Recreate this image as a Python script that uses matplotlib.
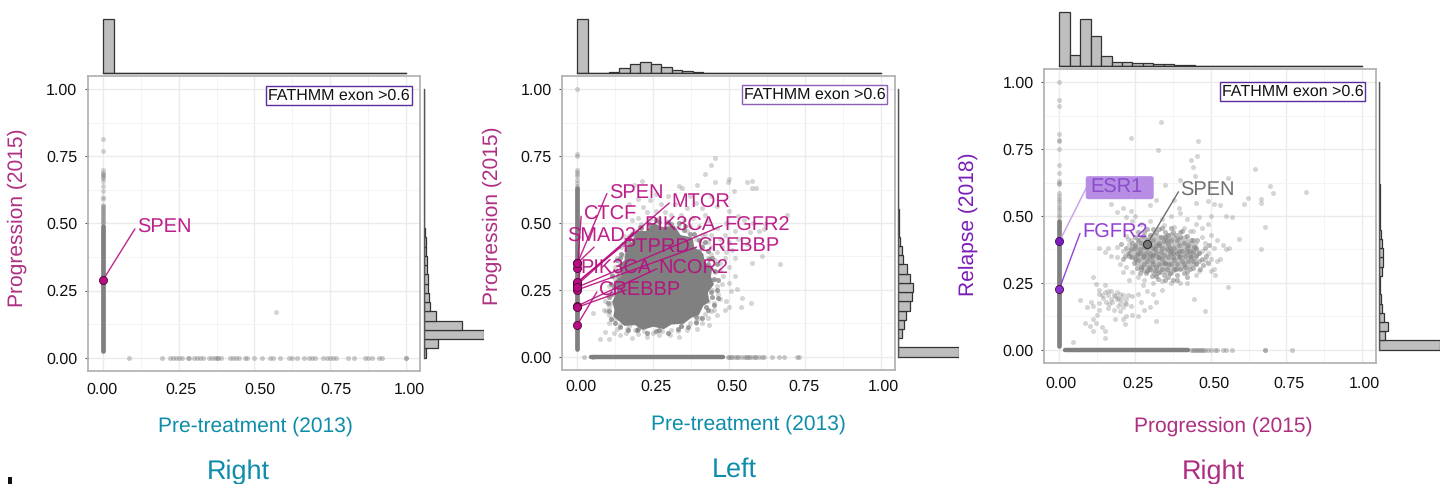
import matplotlib
matplotlib.use("Agg")
import matplotlib.pyplot as plt
from matplotlib.patches import Rectangle, FancyBboxPatch
from matplotlib.transforms import ScaledTranslation

plt.rcParams['font.family'] = ['Liberation Sans', 'DejaVu Sans']
plt.rcParams['text.hinting'] = 'no_hinting'
plt.rcParams['text.hinting_factor'] = 1
W, H = 1440, 484

TICKS = [0.0, 0.25, 0.5, 0.75, 1.0]
TICK_LABELS = ['0.00', '0.25', '0.50', '0.75', '1.00']
MINOR = [0.125, 0.375, 0.625, 0.875]

# ---------- Panel 1 data ----------
p1_top = [1.0, 0, 0, 0, 0, 0, 0, 0, 0, 0, 0, 0, 0, 0, 0, 0, 0, 0, 0, 0, 0, 0, 0, 0, 0, 0, 0, 0, 0]
p1_right = [.04, .24, 1.0, .64, .21, .10, .08, .065, .07, .06, .05, .045, .03, .02, .012, .008, .006, .005, .005,
            .004, .004, .003, .003, .002, .002, .002, .002, .002, .002]
p1_col_dense = [.025, .04, .055, .07, .085, .10, .115, .13, .145, .16, .175, .19, .205, .22, .235, .25, .265, .28,
                .295, .31, .325, .34, .355, .37, .385, .40, .415, .43, .445, .46, .475, .49]
p1_col_sparse = [.50, .505, .51, .515, .52, .525, .53, .535, .54, .545, .55, .555, .56, .565, .57, .59, .60, .62, .64,
                 .66, .67, .675, .68, .685, .69, .70, .77, .815]
p1_row = [.085, .195, .22, .23, .24, .25, .26, .28, .285, .30, .31, .32, .33, .35, .36, .37, .375, .38, .39, .42,
          .43, .44, .45, .47, .475, .50, .525, .55, .56, .585, .615, .625, .64, .665, .68, .69, .70, .725, .74, .75,
          .76, .77, .81, .83, .865, .875, .89, .91, .92, 1.0, 1.0]
p1_loose = [(.57, .17)]

# ---------- Panel 2 data ----------
p2_top = [1.0, 0, 0, .015, .09, .18, .21, .18, .12, .06, .035, .018, .008, .004, .002, .001, .001, 0, 0, 0, 0, 0, 0,
          0, 0, 0, 0, 0, 0]
p2_right = [1.0, 0, .07, .10, .13, .20, .225, .24, .19, .14, .09, .06, .04, .02, .012, .01, .008, .006, .005, .005,
            .004, .004, .003, .003, .002, .002, .002, .002, .002]
p2_col_dense = [.03, .045, .06, .075, .09, .105, .12, .135, .15, .165, .18, .195, .21, .225, .24, .255, .27, .285,
                .30, .315, .33, .345, .36, .375, .39, .405, .42, .435, .45, .465, .48, .495, .51, .525, .54, .555,
                .57, .585, .60, .615, .63]
p2_col_sparse = [.64, .65, .66, .675, .685, .69, .70, .75, .76, 1.0]
p2_row_dense = [.045, .06, .075, .09, .105, .12, .135, .15, .165, .18, .195, .21, .225, .24, .255, .27, .285, .30,
                .315, .33, .345, .36, .375, .39, .405, .42, .435, .45, .465, .48]
p2_row_sparse = [.02, .05, .495, .50, .505, .51, .52, .525, .53, .54, .55, .555, .56, .565, .57, .58, .585, .59, .60,
                 .61, .615, .64, .665, .68, .725, .73]
p2_core = [(.115, .205), (.122, .175), (.118, .15), (.14, .13), (.155, .115), (.19, .118), (.215, .10), (.25, .112),
           (.285, .103), (.31, .12), (.35, .123), (.375, .145), (.40, .155), (.415, .19), (.435, .205), (.43, .24),
           (.45, .27), (.44, .30), (.445, .335), (.42, .35), (.415, .385), (.385, .41), (.38, .445), (.34, .455),
           (.32, .49), (.28, .485), (.25, .50), (.225, .47), (.195, .47), (.18, .43), (.16, .41), (.155, .36),
           (.138, .345), (.145, .30), (.125, .285), (.13, .245)]
p2_edge = [(.10, .20), (.105, .17), (.11, .14), (.125, .125), (.14, .11), (.165, .10), (.195, .10), (.23, .09), (.26, .095),
           (.30, .09), (.33, .105), (.365, .11), (.39, .13), (.41, .145), (.43, .175), (.45, .195), (.445, .225),
           (.46, .25), (.465, .285), (.455, .32), (.46, .345), (.435, .365), (.43, .395), (.41, .41), (.40, .435),
           (.37, .46), (.35, .475), (.335, .50), (.30, .505), (.27, .505), (.235, .495), (.205, .485), (.18, .46),
           (.17, .44), (.15, .42), (.145, .385), (.13, .36), (.13, .32), (.115, .30), (.11, .27), (.115, .235),
           (.125, .205), (.135, .16), (.155, .13), (.20, .105), (.27, .10), (.34, .115), (.39, .15), (.425, .185),
           (.44, .24), (.45, .29), (.43, .345), (.40, .395), (.36, .44), (.31, .495), (.26, .51), (.21, .48), (.165, .43),
           (.14, .37), (.135, .30), (.12, .26), (.105, .225), (.465, .22), (.445, .37), (.42, .43), (.385, .46), (.355, .49)]
p2_loose = [(.453, .743), (.441, .718), (.422, .683), (.50, .665), (.498, .655), (.455, .653), (.56, .652), (.577, .658),
            (.588, .631), (.575, .632), (.516, .621), (.395, .643), (.336, .64), (.345, .632), (.213, .656), (.185, .643),
            (.69, .529), (.615, .476), (.668, .345), (.61, .376), (.577, .352), (.571, .202), (.544, .221), (.527, .252),
            (.538, .184), (.334, .075), (.103, .066), (.075, .066), (.092, .093), (.051, .163), (.086, .175), (.103, .184),
            (.119, .09), (.163, .103), (.44, .60), (.37, .60), (.30, .60), (.26, .61), (.24, .585), (.20, .59), (.17, .57),
            (.32, .57), (.39, .575), (.41, .555), (.46, .565), (.50, .545), (.53, .525), (.55, .51), (.58, .50), (.60, .47),
            (.62, .495), (.57, .465), (.52, .47), (.49, .50), (.46, .48), (.43, .51), (.42, .46), (.47, .44), (.50, .43),
            (.53, .44), (.56, .42), (.49, .39), (.52, .37), (.46, .39), (.44, .41), (.43, .37), (.47, .35), (.50, .335),
            (.455, .315), (.44, .33), (.48, .30), (.445, .285), (.46, .265), (.50, .275), (.52, .30), (.445, .25),
            (.465, .235), (.49, .21), (.50, .185), (.43, .21), (.45, .20), (.44, .17), (.42, .16), (.46, .155), (.40, .145),
            (.41, .125), (.37, .125), (.34, .115), (.31, .10), (.28, .095), (.25, .09), (.22, .095), (.19, .10), (.17, .115),
            (.14, .12), (.125, .14), (.105, .155), (.11, .20), (.10, .23), (.12, .25), (.125, .29), (.14, .31), (.14, .345),
            (.15, .38), (.165, .41), (.17, .45), (.19, .47), (.21, .495), (.18, .51), (.24, .515), (.27, .52), (.30, .50),
            (.33, .485), (.36, .47), (.39, .44), (.41, .42), (.29, .54), (.23, .54), (.34, .53), (.38, .52), (.40, .49),
            (.43, .43), (.41, .455), (.44, .385), (.455, .36), (.47, .325), (.475, .27), (.47, .215), (.45, .175),
            (.43, .145), (.39, .125), (.36, .10), (.33, .095), (.27, .08), (.23, .075), (.20, .085), (.16, .09), (.13, .105),
            (.105, .125), (.095, .17), (.09, .21), (.105, .265), (.115, .31), (.125, .335), (.13, .37), (.145, .41),
            (.155, .45), (.20, .52), (.26, .545), (.31, .53), (.35, .51), (.37, .49), (.275, .57), (.215, .56), (.36, .555),
            (.42, .53), (.44, .455), (.485, .455), (.51, .40), (.475, .41), (.485, .37), (.505, .245), (.485, .175),
            (.435, .12), (.395, .105), (.305, .08), (.18, .07), (.14, .08)]

# ---------- Panel 3 data ----------
p3_top = [1.0, .20, .87, .55, .19, .08, .07, .055, .05, .045, .03, .025, .012, .008, .005, .003, .002, .002, .001,
          .001, .001, 0, 0, 0, 0, 0, 0, 0, 0]
p3_right = [1.0, .09, .14, .07, .045, .03, .01, .01, .04, .06, .06, .04, .025, .01, .006, .005, .004, .004, .003,
            .003, .002, .002, .002, .002, .002, .002, .002, .002, .002]
p3_col_dense = [.015, .03, .045, .06, .075, .09, .105, .12, .135, .15, .165, .18, .195, .21, .225, .24, .255, .27,
                .285, .30, .315, .33, .345, .36, .375, .39, .405, .42, .435, .45, .465, .48]
p3_col_sparse = [.495, .505, .515, .525, .535, .545, .555, .565, .575, .585, .62, .625, .63, .66, .69, .75, .78, .785,
                 .805, .91, .935, 1.0]
p3_row_dense = [.02, .035, .05, .065, .08, .095, .11, .125, .14, .155, .17, .185, .20, .215, .23, .245, .26, .275,
                .29, .305, .32, .335, .35, .365, .38, .395, .41, .425]
p3_row_sparse = [.435, .44, .445, .45, .455, .46, .465, .47, .475, .48, .49, .50, .515, .52, .54, .55, .57, .68, .68, .77]
p3_core = [(.225, .36), (.235, .335), (.245, .345), (.25, .315), (.27, .31), (.275, .285), (.30, .29), (.315, .27),
           (.345, .285), (.37, .275), (.39, .295), (.42, .295), (.44, .31), (.46, .315), (.455, .34), (.47, .36),
           (.455, .385), (.46, .40), (.43, .405), (.42, .43), (.39, .42), (.37, .44), (.34, .425), (.31, .44), (.29, .42),
           (.265, .425), (.25, .395), (.235, .39)]
p3_loose = [(.335, .85), (.236, .79), (.458, .78), (.327, .747), (.456, .725), (.434, .709), (.44, .684), (.645, .677),
            (.447, .65), (.558, .643), (.40, .634), (.696, .612), (.707, .587), (.814, .588), (.667, .563), (.667, .547),
            (.623, .566), (.61, .545), (.571, .498), (.68, .458), (.592, .413), (.667, .377), (.558, .234), (.48, .143),
            (.445, .189), (.046, .029), (.068, .184), (.084, .10), (.318, .106), (.151, .044),
            (.35, .615), (.32, .56), (.30, .54), (.29, .60), (.17, .545), (.21, .53), (.19, .515), (.235, .52), (.25, .50),
            (.38, .56), (.395, .53), (.40, .51), (.45, .55), (.49, .555), (.51, .545), (.53, .54), (.55, .50), (.50, .50),
            (.46, .495), (.45, .47), (.42, .49), (.37, .50), (.34, .49), (.30, .48), (.27, .47), (.24, .48), (.22, .495),
            (.345, .465), (.38, .46), (.41, .455), (.44, .445), (.47, .455), (.49, .47), (.50, .43), (.52, .41), (.55, .375),
            (.56, .38), (.54, .39), (.51, .38), (.49, .36), (.50, .34), (.53, .34), (.52, .33), (.51, .30), (.515, .28),
            (.50, .295), (.48, .335), (.47, .37), (.48, .40), (.47, .42), (.43, .445), (.40, .25), (.37, .25), (.34, .255),
            (.31, .25), (.34, .225), (.42, .25), (.45, .28), (.46, .295), (.28, .26), (.26, .27), (.24, .29), (.22, .31),
            (.23, .26), (.21, .29), (.20, .32), (.19, .345), (.17, .35), (.15, .365), (.16, .38), (.13, .38), (.21, .37),
            (.19, .385), (.23, .395), (.22, .425), (.225, .415), (.235, .41), (.11, .27), (.12, .245), (.13, .225), (.15, .24),
            (.16, .22), (.13, .21), (.14, .205), (.17, .22), (.18, .205), (.19, .215), (.20, .21), (.21, .205), (.22, .19),
            (.24, .20), (.235, .165), (.22, .17), (.20, .175), (.19, .19), (.17, .19), (.155, .18), (.13, .175), (.11, .165),
            (.105, .18), (.13, .15), (.16, .155), (.18, .15), (.20, .145), (.22, .125), (.24, .13), (.26, .125), (.28, .15),
            (.30, .16), (.32, .18), (.27, .18), (.26, .21), (.29, .22), (.31, .21), (.275, .24), (.11, .115), (.12, .10),
            (.10, .09), (.11, .07), (.14, .085), (.15, .07), (.215, .095), (.21, .115), (.125, .13), (.09, .16), (.185, .115),
            (.145, .195), (.16, .205), (.175, .18), (.185, .20), (.195, .195), (.205, .19), (.215, .175), (.225, .205),
            (.165, .17), (.15, .215), (.195, .165), (.21, .16)]
p3_cloud = [(.27, .31), (.30, .30), (.33, .29), (.36, .27), (.39, .28), (.42, .29), (.44, .33), (.46, .33), (.45, .38),
            (.44, .41), (.40, .44), (.37, .455), (.33, .45), (.29, .45), (.26, .44), (.25, .38), (.23, .35), (.28, .35),
            (.31, .38), (.34, .34), (.37, .37), (.40, .35), (.42, .38), (.29, .33), (.33, .40), (.36, .32), (.39, .41),
            (.27, .40), (.31, .32), (.43, .35), (.25, .34), (.35, .42), (.41, .32), (.30, .36), (.38, .30), (.32, .36),
            (.225, .36), (.235, .375), (.24, .345), (.245, .325), (.25, .39), (.255, .355), (.26, .41), (.26, .335),
            (.265, .375), (.27, .30), (.275, .345), (.275, .425), (.28, .385), (.28, .32), (.285, .36), (.285, .285),
            (.29, .41), (.295, .345), (.295, .31), (.30, .39), (.30, .43), (.305, .275), (.305, .33), (.31, .355),
            (.31, .41), (.315, .295), (.315, .375), (.32, .44), (.32, .31), (.325, .345), (.325, .265), (.33, .39),
            (.33, .32), (.335, .365), (.335, .42), (.34, .30), (.34, .38), (.345, .28), (.345, .355), (.345, .405),
            (.35, .325), (.35, .44), (.355, .375), (.355, .30), (.36, .345), (.36, .395), (.36, .43), (.365, .285),
            (.365, .36), (.37, .32), (.37, .41), (.375, .345), (.375, .26), (.38, .38), (.38, .335), (.385, .43),
            (.385, .30), (.39, .36), (.39, .32), (.395, .39), (.395, .345), (.40, .30), (.40, .42), (.405, .37),
            (.405, .33), (.41, .285), (.41, .40), (.415, .35), (.415, .31), (.42, .365), (.42, .425), (.425, .33),
            (.425, .39), (.43, .30), (.43, .37), (.435, .345), (.435, .41), (.44, .305), (.44, .365), (.445, .385),
            (.45, .32), (.45, .35), (.455, .41), (.46, .36), (.465, .30), (.47, .34), (.475, .315), (.48, .38),
            (.485, .35), (.49, .325), (.495, .39), (.215, .35), (.22, .38), (.205, .395), (.21, .34), (.24, .40),
            (.25, .42), (.255, .305), (.265, .285), (.29, .295), (.32, .275), (.35, .26), (.39, .26), (.42, .27),
            (.28, .44), (.31, .45), (.34, .455), (.375, .44), (.405, .445), (.33, .345), (.29, .38), (.355, .41),
            (.365, .38), (.305, .35), (.32, .39), (.345, .325), (.375, .36), (.395, .37), (.27, .36), (.26, .36)]

# ---------- Annotations ----------
p1_genes = [('SPEN', .29, .113, .485, .105, .48)]
p2_genes = [('SPEN', .35, .104, .61, .097, .61), ('CTCF', .333, .02, .53, .012, .525),
            ('SMAD2', .35, -.033, .448, .055, .41), ('MTOR', .277, .309, .575, .303, .575),
            ('PIK3CA', .27, .22, .49, .216, .488), ('FGFR2', .26, .483, .49, .477, .49),
            ('PTPRD', .28, .147, .411, .143, .41), ('CREBBP', .25, .397, .411, .393, .41),
            ('PIK3CA', .26, .009, .329, .008, .32), ('NCOR2', .19, .268, .329, .262, .329),
            ('CREBBP', .12, .072, .248, .064, .242), ('', .185, .0, .0, .16, .25)]
p3_genes = [('FGFR2', .228, .075, .439, .068, .435)]

TEAL = '#0E8DAB'
MAG = '#AE2F82'
PURP = '#7A1CB8'
GENE = '#B80D80'
GREY = '#808080'
GENE_FS = 14.3

fig = plt.figure(figsize=(W / 100, H / 100), dpi=100)


def px_axes(x0, y0, x1, y1, **kw):
    return fig.add_axes([x0 / W, 1 - y1 / H, (x1 - x0) / W, (y1 - y0) / H], **kw)


def ftext(x, y, s, **kw):
    fig.text(x / W, 1 - y / H, s, ha=kw.pop('ha', 'center'), va=kw.pop('va', 'center'), **kw)


def xs(p):
    return [a for a, _ in p]


def ys(p):
    return [b for _, b in p]


BIN = 1 / 29


def panel(box, col_dense, col_sparse, row_dense, row_sparse, fills, edge, edge_alpha, loose, top, right, top_box,
          right_box, dx, dy0, xlab, xlab_pos, xcol, ylab, ylab_pos, ycol, title, title_pos, fbox, fedge):
    x0, y0, x1, y1 = box
    ax = px_axes(x0, y0, x1, y1)
    ax.set_xlim(-.05, 1.047)
    ax.set_ylim(-.05, 1.05)
    ax.set_xticks(TICKS)
    ax.set_yticks(TICKS)
    ax.set_xticks(MINOR, minor=True)
    ax.set_yticks(MINOR, minor=True)
    ax.set_xticklabels(TICK_LABELS, fontsize=11.5, color='#111111')
    ax.set_yticklabels(TICK_LABELS, fontsize=11.5, color='#111111')
    ax.grid(which='major', color='#EBEBEB', lw=1.0)
    ax.grid(which='minor', color='#F4F4F4', lw=.7)
    ax.set_axisbelow(True)
    ax.tick_params(axis='x', which='both', length=0, pad=dy0)
    ax.tick_params(axis='y', which='major', length=2.2, width=.8, color='#555555', pad=5.5)
    ax.tick_params(axis='y', which='minor', length=0)
    for i, lab in enumerate(ax.get_xticklabels()):
        lab.set_transform(lab.get_transform() + ScaledTranslation(dx[i] / 100, 0, fig.dpi_scale_trans))
    for s in ax.spines.values():
        s.set_color('#B4B4B4')
        s.set_linewidth(1.3)
    for poly, a in fills:
        ax.fill(xs(poly), ys(poly), color=GREY, alpha=a, lw=0, zorder=2)
    if edge:
        ax.scatter(xs(edge), ys(edge), s=13, color=GREY, alpha=edge_alpha, lw=0, zorder=3)
    ax.scatter([0] * len(col_sparse), col_sparse, s=13, color=GREY, alpha=.35, lw=0, zorder=3)
    ax.plot([0, 0], [col_dense[0], col_dense[-1]], color=GREY, lw=3.4, solid_capstyle='round', zorder=3)
    ax.scatter(row_sparse, [0] * len(row_sparse), s=13, color=GREY, alpha=.4, lw=0, zorder=3)
    if row_dense:
        ax.plot([row_dense[0], row_dense[-1]], [0, 0], color=GREY, lw=3.2, solid_capstyle='round', zorder=3)
    if loose:
        ax.scatter(xs(loose), ys(loose), s=13, color=GREY, alpha=.33, lw=0, zorder=3)
    # marginal histograms
    at = px_axes(x0, top_box[0], x1, top_box[1])
    at.set_xlim(-.05, 1.047)
    at.set_ylim(0, 1)
    at.axis('off')
    at.bar([i * BIN for i in range(len(top))], top, width=BIN, align='edge', color='#BEBEBE', edgecolor='#333333',
           lw=.9, clip_on=False)
    at.plot([0, 1], [0, 0], color='#333333', lw=1.0, clip_on=False)
    ar = px_axes(right_box[0], y0, right_box[1], y1)
    ar.set_ylim(-.05, 1.05)
    ar.set_xlim(0, 1)
    ar.axis('off')
    ar.barh([i * BIN for i in range(len(right))], right, height=BIN, align='edge', color='#BEBEBE',
            edgecolor='#333333', lw=.9, clip_on=True)
    ar.plot([0, 0], [0, 1], color='#555555', lw=1.0, clip_on=False)
    # outer text
    ftext(*xlab_pos, xlab, color=xcol, fontsize=15.3)
    ftext(*ylab_pos, ylab, color=ycol, fontsize=15.3, rotation=90)
    ftext(*title_pos, title, color=xcol, fontsize=19.5)
    bx0, by0, bx1, by1 = fbox
    fig.add_artist(Rectangle((bx0 / W, 1 - by1 / H), (bx1 - bx0) / W, (by1 - by0) / H, transform=fig.transFigure,
                             fc='white', ec=fedge, lw=1.0, zorder=5))
    fig.text((bx0 + bx1) / 2 / W, 1 - (by0 + by1) / 2 / H, 'FATHMM exon >0.6', ha='center', va='center',
             fontsize=11.4, color='#111111', zorder=6)
    return ax


def genes(ax, items, col, fs=GENE_FS):
    for name, yv, tx, ty, lx, ly in items:
        ax.plot([0, lx], [yv, ly], color=col, lw=1.0, alpha=.9, zorder=6, solid_capstyle='round')
        if name:
            ax.text(tx, ty, name, color=col, fontsize=fs, va='center', ha='left', alpha=.92, zorder=8)
    ax.scatter([0] * len(items), [i[1] for i in items], s=34, color=col, edgecolor='#4A0A3A', lw=.6, zorder=7)


ax1 = panel((88, 76, 420, 371), p1_col_dense, p1_col_sparse, [], p1_row, [], [], 0, p1_loose, p1_top, p1_right,
            (19.3, 73.3), (423.7, 484.3), [-1, 2, 6, 6, 4], 8.3, 'Pre-treatment (2013)', (255, 426.5), TEAL,
            'Progression (2015)', (17.5, 217.5), MAG, 'Right', (238, 472.5), (266, 86, 411.7, 105.3), '#5B2E9E')
genes(ax1, p1_genes, GENE)

ax2 = panel((562.3, 76, 895, 370), p2_col_dense, p2_col_sparse, p2_row_dense, p2_row_sparse,
            [(p2_core, 1.0)], p2_edge, .75, p2_loose,
            p2_top, p2_right, (19.3, 73.3), (898, 959), [3, 3, 3, -1, 3], 6.5, 'Pre-treatment (2013)', (748, 424), TEAL,
            'Progression (2015)', (492, 216), MAG, 'Left', (734, 470), (742, 84.7, 887, 104), '#8E5DB5')
genes(ax2, p2_genes, GENE)

ax3 = panel((1044.3, 69, 1376.3, 363), p3_col_dense, p3_col_sparse, p3_row_dense, p3_row_sparse,
            [(p3_core, .45)], p3_cloud, .3, p3_loose + p3_cloud,
            p3_top, p3_right, (12.3, 66), (1379.3, 1440), [2, 3, 3, 3, 2], 9.5, 'Progression (2015)', (1223, 426), MAG,
            'Relapse (2018)', (968, 224), PURP, 'Right', (1213, 472.5), (1220, 81.7, 1365, 101), '#5B2E9E')
genes(ax3, p3_genes, '#8A2FD0')
ax3.scatter([0], [.405], s=34, color=PURP, edgecolor='#3A0A6A', lw=.6, zorder=7)
ax3.plot([0, .088], [.405, .603], color='#C9A6EA', lw=1.1, zorder=6)
ax3.add_patch(FancyBboxPatch((.087, .563), .2245, .086, boxstyle='round,pad=0,rounding_size=.008', fc='#B78EE3',
                             ec='none', zorder=7))
ax3.text(.101, .606, 'ESR1', color='#8A4DCB', fontsize=GENE_FS, va='center', ha='left', zorder=8)
ax3.plot([.29, .393], [.395, .59], color='#6E6E6E', lw=1.0, zorder=6)
ax3.scatter([.29], [.395], s=34, color='#777777', edgecolor='#333333', lw=.8, zorder=7)
ax3.text(.40, .595, 'SPEN', color='#707070', fontsize=GENE_FS, va='center', ha='left', zorder=8)

# stray mark at the bottom-left edge of the source image
fig.add_artist(Rectangle((8 / W, 0), 4 / W, 7 / H, transform=fig.transFigure, fc='#111111', ec='none'))

fig.savefig('out.png', dpi=100)
